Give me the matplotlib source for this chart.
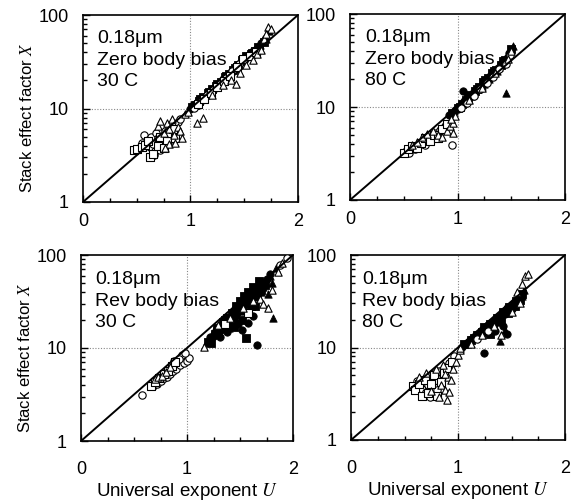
import numpy as np
import matplotlib
matplotlib.use("Agg")
import matplotlib.pyplot as plt
from matplotlib.ticker import LogLocator, MultipleLocator, FixedLocator, NullFormatter, FixedFormatter

plt.rcParams['font.family'] = ['Liberation Sans', 'DejaVu Sans']
plt.rcParams['mathtext.fontset'] = 'stix'

# ---------------- data ----------------
titles = ["0.18\u03bcm\nZero body bias\n30 C",
          "0.18\u03bcm\nZero body bias\n80 C",
          "0.18\u03bcm\nRev body bias\n30 C",
          "0.18\u03bcm\nRev body bias\n80 C"]

x_ticks = [0, 1, 2]
x_tick_labels = ["0", "1", "2"]
y_ticks = [1, 10, 100]
y_tick_labels = ["1", "10", "100"]
line_u = np.array([0.0, 2.0])
line_x = 10 ** line_u

# ---- Panel 1 : zero body bias, 30 C ----
p1_oc_u = [0.52, 0.55, 0.57, 0.60, 0.62, 0.63, 0.65, 0.67, 0.68, 0.70, 0.72, 0.74, 0.76, 0.78, 0.80, 0.82, 0.85, 0.88, 0.90, 0.66,
           1.03, 1.09, 1.15, 1.21, 1.27, 1.33, 1.39, 1.45, 1.51, 1.57]
p1_oc_x = [3.8, 4.3, 5.2, 4.6, 3.9, 5.0, 4.2, 3.5, 5.5, 4.8, 3.6, 4.4, 5.8, 5.0, 6.2, 4.6, 6.5, 7.2, 7.8, 3.2,
           10.2, 11.8, 13.8, 15.8, 18.5, 21.0, 25.0, 30.0, 34.0, 37.5]
p1_os_u = [0.47, 0.50, 0.55, 0.58, 0.62, 0.65, 0.60, 0.70, 0.72, 0.78, 0.80, 0.84, 0.86, 0.75,
           1.07, 1.13, 1.19, 1.25, 1.31, 1.37, 1.43, 1.49, 1.55, 1.61]
p1_os_x = [3.6, 3.7, 3.9, 4.1, 3.0, 3.3, 4.5, 4.0, 5.0, 4.5, 5.5, 6.0, 4.8, 3.8,
           11.2, 12.5, 14.8, 17.0, 19.5, 22.5, 28.0, 33.5, 36.0, 40.0]
p1_ot_u = [0.70, 0.72, 0.75, 0.78, 0.80, 0.83, 0.85, 0.88, 0.90, 0.92, 0.80, 0.76, 0.86, 0.95, 1.06, 1.12, 0.98,
           1.38, 1.42, 1.46, 1.52, 1.58, 1.62, 1.66, 1.68, 1.72, 1.75, 1.70, 1.30, 1.20]
p1_ot_x = [6.5, 7.4, 5.5, 7.0, 6.0, 7.8, 5.2, 6.4, 5.8, 4.8, 4.2, 3.8, 4.3, 8.8, 7.0, 8.0, 9.2,
           20.0, 18.5, 24.0, 29.0, 33.0, 38.0, 42.0, 56.0, 75.0, 70.0, 62.0, 18.0, 14.0]
p1_fc_u = [1.02, 1.06, 1.10, 1.14, 1.18, 1.22, 1.26, 1.30, 1.34, 1.38, 1.42, 1.46, 1.50, 1.54, 1.58, 1.62,
           1.00, 1.08, 1.16, 1.24, 1.32, 1.40, 1.48, 1.56, 1.60, 1.66]
p1_fc_x = [10.8, 11.5, 12.8, 13.5, 15.2, 16.5, 18.0, 20.5, 22.0, 24.5, 27.0, 31.0, 35.0, 37.0, 40.0, 43.0,
           10.0, 12.2, 14.2, 17.0, 21.0, 26.0, 32.0, 38.0, 42.0, 50.0]
p1_fs_u = [1.04, 1.08, 1.12, 1.16, 1.20, 1.24, 1.28, 1.32, 1.36, 1.40, 1.44, 1.48, 1.52, 1.56, 1.60, 1.64,
           1.01, 1.09, 1.17, 1.25, 1.33, 1.41, 1.49, 1.57, 1.63, 1.68]
p1_fs_x = [11.0, 12.0, 13.2, 14.5, 16.0, 17.5, 19.0, 21.5, 23.5, 26.0, 29.0, 33.0, 36.5, 38.0, 41.0, 44.0,
           10.5, 12.6, 15.0, 18.3, 22.5, 27.0, 34.0, 39.0, 46.0, 52.0]
p1_ft_u = [1.05, 1.11, 1.17, 1.23, 1.29, 1.35, 1.41, 1.47, 1.53, 1.59, 1.65, 1.70,
           1.03, 1.14, 1.26, 1.38, 1.44, 1.50, 1.56, 1.62, 1.67, 1.73]
p1_ft_x = [11.8, 13.0, 14.8, 17.2, 19.8, 23.0, 27.5, 32.0, 36.0, 39.5, 48.0, 55.0,
           10.9, 14.0, 18.5, 25.0, 30.0, 36.5, 41.0, 45.0, 55.0, 68.0]

# ---- Panel 2 : zero body bias, 80 C ----
p2_oc_u = [0.52, 0.56, 0.60, 0.64, 0.68, 0.72, 0.76, 0.80, 0.84, 0.88, 0.95, 0.55, 0.70,
           1.03, 1.09, 1.15, 1.21, 1.27, 1.33, 1.39, 1.45, 1.49]
p2_oc_x = [3.4, 3.6, 3.5, 3.9, 4.3, 4.5, 4.9, 5.3, 5.6, 6.2, 3.9, 3.2, 3.9,
           9.8, 11.0, 13.2, 15.5, 18.0, 21.0, 25.5, 29.0, 36.0]
p2_os_u = [0.50, 0.54, 0.58, 0.62, 0.66, 0.70, 0.74, 0.78, 0.82, 0.86, 0.90]
p2_os_x = [3.2, 3.5, 3.8, 3.6, 4.1, 4.6, 4.3, 5.0, 4.6, 5.8, 6.5]
p2_ot_u = [0.58, 0.62, 0.67, 0.72, 0.77, 0.82, 0.86, 0.90, 0.93, 0.96, 0.96, 0.98, 0.94,
           1.11, 1.23, 1.35, 1.47, 1.50]
p2_ot_x = [3.9, 4.2, 4.7, 5.1, 5.5, 5.0, 4.7, 5.5, 6.3, 5.2, 6.8, 8.0, 7.5,
           11.8, 16.0, 23.0, 33.0, 40.0]
p2_fc_u = [0.92, 0.98, 1.02, 1.06, 1.10, 1.14, 1.18, 1.22, 1.26, 1.30, 1.34, 1.38, 1.42, 1.46, 1.05,
           1.00, 1.08, 1.16, 1.24, 1.32, 1.40, 1.48]
p2_fc_x = [8.2, 9.2, 10.2, 11.5, 12.8, 14.0, 15.5, 17.0, 19.0, 21.5, 24.0, 26.0, 30.0, 34.0, 15.0,
           9.6, 12.0, 14.6, 18.0, 23.0, 29.0, 38.0]
p2_fs_u = [0.95, 1.00, 1.04, 1.08, 1.12, 1.16, 1.20, 1.24, 1.28, 1.32, 1.36, 1.40, 1.44,
           1.02, 1.10, 1.18, 1.26, 1.34, 1.42, 1.50]
p2_fs_x = [8.6, 9.8, 10.8, 12.0, 13.5, 15.0, 16.5, 18.5, 20.5, 23.0, 25.0, 28.0, 32.0,
           10.0, 12.5, 15.8, 19.5, 24.5, 31.0, 42.0]
p2_ft_u = [1.01, 1.07, 1.13, 1.19, 1.25, 1.31, 1.37, 1.43, 1.48, 1.52, 1.45,
           0.97, 1.05, 1.15, 1.23, 1.29, 1.39, 1.46]
p2_ft_x = [10.0, 11.2, 13.0, 15.8, 17.8, 22.0, 24.5, 30.5, 38.0, 45.0, 14.0,
           9.0, 11.0, 14.0, 17.0, 20.0, 27.0, 36.0]

# ---- Panel 3 : reverse body bias, 30 C ----
p3_oc_u = [0.58, 0.68, 0.72, 0.75, 0.78, 0.81, 0.84, 0.87, 0.90, 0.93, 0.95, 0.97, 1.00, 1.02, 0.88, 0.92, 0.98,
           1.94, 1.88]
p3_oc_x = [3.1, 3.9, 4.1, 4.4, 4.7, 4.9, 5.3, 5.6, 6.0, 6.6, 8.4, 6.9, 7.3, 7.8, 7.2, 7.6, 8.8,
           92.0, 78.0]
p3_os_u = [0.66, 0.70, 0.74, 0.78, 0.82, 0.86, 0.89, 1.36, 1.58]
p3_os_x = [3.9, 4.3, 4.8, 5.2, 5.6, 6.4, 7.0, 18.0, 24.0]
p3_ot_u = [0.70, 0.73, 0.76, 0.80, 0.84, 1.16, 1.29, 1.41, 1.53, 1.62, 1.69, 1.72, 1.76, 1.80, 1.86, 1.90]
p3_ot_x = [4.6, 4.9, 5.0, 5.5, 6.2, 10.3, 17.5, 21.0, 27.0, 32.0, 34.0, 30.0, 27.0, 42.0, 65.0, 82.0]
p3_fc_u = [1.22, 1.28, 1.31, 1.35, 1.40, 1.45, 1.50, 1.52, 1.55, 1.60, 1.65, 1.66, 1.70, 1.75, 1.62, 1.48, 1.38, 1.58,
           1.25, 1.33, 1.42, 1.47, 1.53, 1.57, 1.63, 1.67, 1.72, 1.78]
p3_fc_x = [13.0, 14.5, 13.2, 17.0, 19.0, 22.0, 25.0, 15.5, 30.0, 35.0, 40.0, 10.9, 48.0, 55.0, 22.0, 18.0, 15.0, 18.5,
           13.5, 16.0, 20.0, 24.0, 28.0, 33.0, 38.0, 44.0, 50.0, 62.0]
p3_fs_u = [1.20, 1.23, 1.26, 1.30, 1.34, 1.38, 1.42, 1.46, 1.50, 1.54, 1.56, 1.58, 1.62, 1.68, 1.44, 1.52, 1.64,
           1.28, 1.36, 1.43, 1.48, 1.55, 1.60, 1.66, 1.70, 1.74]
p3_fs_x = [11.5, 11.2, 14.0, 16.0, 19.0, 21.0, 24.0, 28.0, 32.0, 36.0, 12.7, 40.0, 45.0, 52.0, 17.0, 20.0, 28.0,
           16.5, 20.0, 22.0, 26.0, 33.0, 28.0, 38.0, 42.0, 48.0]
p3_ft_u = [1.19, 1.25, 1.32, 1.37, 1.43, 1.49, 1.55, 1.60, 1.66, 1.72, 1.78, 1.81, 1.76, 1.84, 1.46, 1.40,
           1.30, 1.36, 1.45, 1.52, 1.58, 1.64, 1.70, 1.74, 1.80]
p3_ft_x = [12.0, 15.5, 18.0, 22.0, 26.0, 30.0, 25.0, 30.0, 35.0, 45.0, 60.0, 20.9, 38.0, 72.0, 20.0, 16.5,
           15.0, 18.5, 24.0, 32.0, 36.0, 45.0, 40.0, 52.0, 50.0]

# ---- Panel 4 : reverse body bias, 80 C ----
p4_oc_u = [0.62, 0.66, 0.68, 0.70, 0.72, 0.74, 0.76, 0.78, 0.80, 0.82, 0.85, 0.88, 0.92, 0.96, 0.70, 1.18, 1.28]
p4_oc_x = [4.3, 3.6, 3.1, 4.6, 3.9, 2.9, 5.2, 4.3, 3.5, 5.6, 4.8, 6.2, 6.8, 8.0, 3.3, 12.5, 15.0]
p4_os_u = [0.58, 0.60, 0.64, 0.66, 0.69, 0.72, 0.75, 0.78, 0.80, 0.84, 0.87, 0.90, 0.94]
p4_os_x = [3.8, 3.5, 4.0, 3.0, 4.4, 3.2, 4.0, 5.0, 3.0, 4.2, 5.3, 6.0, 7.0]
p4_ot_u = [0.64, 0.70, 0.75, 0.79, 0.82, 0.84, 0.86, 0.88, 0.90, 0.91, 0.92, 0.95, 0.98, 1.00, 1.02, 0.88, 0.93,
           1.02, 1.12, 1.22, 1.34, 1.40, 1.50, 1.58, 1.63, 1.65, 1.60, 1.55]
p4_ot_x = [4.8, 5.3, 3.4, 5.8, 2.9, 3.9, 6.4, 3.5, 2.7, 4.8, 3.3, 5.8, 7.0, 8.2, 9.5, 5.2, 4.4,
           9.8, 11.0, 13.5, 17.0, 13.5, 24.0, 30.0, 59.0, 62.0, 48.0, 40.0]
p4_fc_u = [1.04, 1.10, 1.16, 1.22, 1.24, 1.28, 1.34, 1.40, 1.46, 1.46, 1.52, 1.58, 1.35, 1.42,
           1.12, 1.20, 1.27, 1.33, 1.38, 1.44, 1.50, 1.56]
p4_fc_x = [10.2, 11.6, 13.0, 15.0, 8.8, 17.5, 19.5, 22.0, 25.0, 14.1, 30.0, 35.0, 15.0, 17.0,
           12.0, 13.8, 16.0, 18.0, 20.0, 23.0, 26.0, 31.0]
p4_fs_u = [1.06, 1.12, 1.18, 1.24, 1.30, 1.36, 1.42, 1.48, 1.54, 1.60, 1.30,
           1.15, 1.22, 1.33, 1.40, 1.47, 1.53, 1.58]
p4_fs_x = [10.8, 12.2, 13.5, 16.5, 18.0, 21.0, 24.0, 27.5, 32.0, 38.0, 14.0,
           12.6, 14.6, 17.2, 19.5, 23.5, 28.0, 33.0]
p4_ft_u = [1.08, 1.14, 1.20, 1.26, 1.32, 1.38, 1.44, 1.50, 1.56, 1.62, 1.39, 1.44,
           1.10, 1.24, 1.30, 1.36, 1.48, 1.54, 1.60]
p4_ft_x = [11.0, 12.8, 14.5, 16.0, 19.0, 22.5, 26.5, 29.0, 33.0, 42.0, 11.9, 15.5,
           11.5, 15.0, 16.5, 19.0, 25.0, 30.0, 36.0]

panels = [
    (p1_oc_u, p1_oc_x, p1_os_u, p1_os_x, p1_ot_u, p1_ot_x, p1_fc_u, p1_fc_x, p1_fs_u, p1_fs_x, p1_ft_u, p1_ft_x),
    (p2_oc_u, p2_oc_x, p2_os_u, p2_os_x, p2_ot_u, p2_ot_x, p2_fc_u, p2_fc_x, p2_fs_u, p2_fs_x, p2_ft_u, p2_ft_x),
    (p3_oc_u, p3_oc_x, p3_os_u, p3_os_x, p3_ot_u, p3_ot_x, p3_fc_u, p3_fc_x, p3_fs_u, p3_fs_x, p3_ft_u, p3_ft_x),
    (p4_oc_u, p4_oc_x, p4_os_u, p4_os_x, p4_ot_u, p4_ot_x, p4_fc_u, p4_fc_x, p4_fs_u, p4_fs_x, p4_ft_u, p4_ft_x),
]

# ---------------- layout ----------------
W, H = 575, 501
fig = plt.figure(figsize=(W / 100, H / 100), dpi=100)
# pixel boxes: left, top, right, bottom
boxes = [(83, 15, 298, 202), (350, 14, 565, 200), (81, 255, 293, 441), (351, 255, 565, 440)]
text_off = [(14, 15), (15, 15), (14, 16), (11, 16)]
xpad = [8, 8, 14.5, 14.5]

for i, (box, data) in enumerate(zip(boxes, panels)):
    l, t, r, b = box
    ax = fig.add_axes([l / W, 1 - b / H, (r - l) / W, (b - t) / H])
    ax.set_xlim(0, 2)
    ax.set_yscale('log')
    ax.set_ylim(1, 100)

    ax.axvline(1, color='#888888', ls=(0, (1, 1.5)), lw=0.8, zorder=1)
    ax.axhline(10, color='#888888', ls=(0, (1, 1.5)), lw=0.8, zorder=1)

    ou, ox, su, sx, tu, tx, fcu, fcx, fsu, fsx, ftu, ftx = data
    ms = 28
    kw_open = dict(facecolors='white', edgecolors='black', linewidths=0.8, s=ms, zorder=3)
    kw_fill = dict(facecolors='black', edgecolors='black', linewidths=0.6, s=ms, zorder=3)
    ax.scatter(fcu, fcx, marker='o', **kw_fill)
    ax.scatter(fsu, fsx, marker='s', **kw_fill)
    ax.scatter(ftu, ftx, marker='^', **kw_fill)
    ax.scatter(ou, ox, marker='o', **kw_open)
    ax.scatter(su, sx, marker='s', **kw_open)
    ax.scatter(tu, tx, marker='^', **kw_open)

    ax.plot(line_u, line_x, color='black', lw=1.4, zorder=4)

    ax.xaxis.set_major_locator(FixedLocator(x_ticks))
    ax.xaxis.set_major_formatter(FixedFormatter(x_tick_labels))
    ax.xaxis.set_minor_locator(MultipleLocator(0.25))
    ax.yaxis.set_major_locator(FixedLocator(y_ticks))
    ax.yaxis.set_major_formatter(FixedFormatter(y_tick_labels))
    ax.yaxis.set_minor_locator(LogLocator(base=10, subs=np.arange(2, 10)))
    ax.yaxis.set_minor_formatter(NullFormatter())
    ax.tick_params(which='both', direction='in', top=False, right=False, width=1.0)
    ax.tick_params(which='major', length=5, labelsize=13)
    ax.tick_params(which='minor', length=3)
    ax.tick_params(axis='x', which='major', pad=xpad[i])
    ax.tick_params(axis='y', which='major', pad=10)
    for sp in ax.spines.values():
        sp.set_linewidth(1.2)

    ox_, oy_ = text_off[i]
    ax.text(ox_ / (r - l), 1 - oy_ / (b - t), titles[i], transform=ax.transAxes,
            ha='left', va='top', fontsize=14, linespacing=1.35, zorder=5)

    if i in (0, 2):
        ax.set_ylabel('Stack effect factor $X$', fontsize=12)
        ax.yaxis.set_label_coords(-0.225, 0.45)
    if i in (2, 3):
        ax.set_xlabel('Universal exponent $U$', fontsize=13.5, labelpad=2)

fig.savefig('out.png', dpi=100)
